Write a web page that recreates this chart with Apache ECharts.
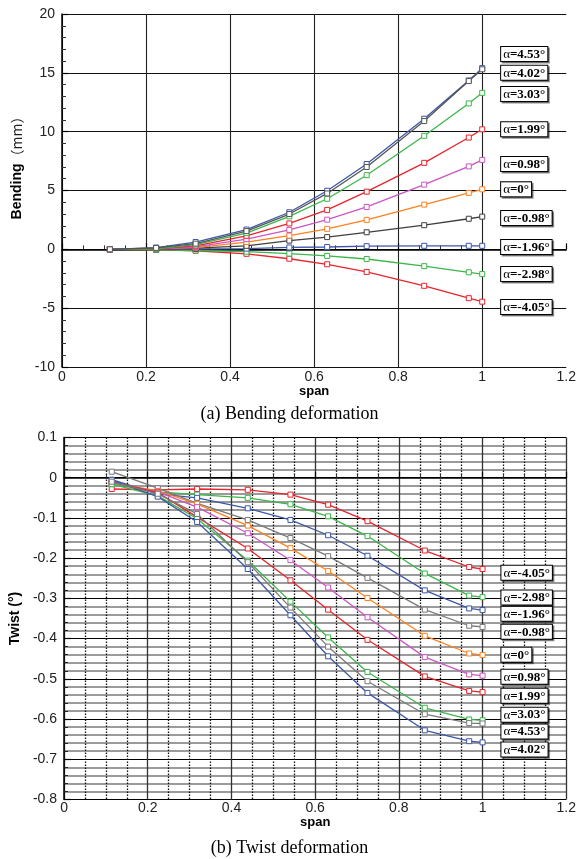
<!DOCTYPE html>
<html><head><meta charset="utf-8">
<script src="https://cdn.jsdelivr.net/npm/echarts@6/dist/echarts.min.js"></script>
<style>html,body{margin:0;padding:0;background:#fff}#c{width:579px;height:859px}</style>
</head><body><div id="c"></div>
<script>
// span positions (shared by both panels)
const spanX = [0.114, 0.224, 0.318, 0.439, 0.541, 0.631, 0.725, 0.862, 0.968, 1.0];

// (a) Bending deformation, mm
const bend_453  = [0, 0.12, 0.48, 1.55, 3.0, 4.75, 7.0, 10.9, 14.3, 15.3];
const bend_402  = [0, 0.15, 0.62, 1.68, 3.15, 4.98, 7.25, 11.1, 14.35, 15.4];
const bend_303  = [0, 0.05, 0.4, 1.38, 2.8, 4.3, 6.3, 9.65, 12.4, 13.3];
const bend_199  = [0, 0.05, 0.3, 1.15, 2.2, 3.35, 4.9, 7.35, 9.5, 10.2];
const bend_098  = [0, 0.05, 0.2, 0.87, 1.65, 2.52, 3.6, 5.5, 7.05, 7.6];
const bend_0    = [0, 0.04, 0.15, 0.62, 1.16, 1.74, 2.5, 3.8, 4.8, 5.1];
const bend_m098 = [0, 0.03, 0.1, 0.3, 0.74, 1.04, 1.45, 2.05, 2.6, 2.78];
const bend_m196 = [0, 0.0, 0.03, 0.06, 0.16, 0.2, 0.27, 0.3, 0.3, 0.3];
const bend_m298 = [0, -0.05, -0.1, -0.2, -0.36, -0.56, -0.82, -1.43, -1.95, -2.1];
const bend_m405 = [0, -0.05, -0.12, -0.38, -0.8, -1.27, -1.92, -3.1, -4.15, -4.45];

// (b) Twist deformation, degrees
const twist_m405 = [-0.028, -0.030, -0.028, -0.030, -0.042, -0.067, -0.108, -0.181, -0.222, -0.227];
const twist_m298 = [-0.016, -0.035, -0.042, -0.050, -0.066, -0.096, -0.145, -0.238, -0.293, -0.297];
const twist_m196 = [-0.005, -0.040, -0.050, -0.076, -0.105, -0.143, -0.194, -0.280, -0.325, -0.329];
const twist_m098 = [0.015, -0.026, -0.064, -0.105, -0.150, -0.195, -0.249, -0.328, -0.368, -0.371];
const twist_0    = [-0.012, -0.033, -0.065, -0.119, -0.175, -0.232, -0.299, -0.393, -0.437, -0.441];
const twist_098  = [-0.012, -0.035, -0.073, -0.138, -0.205, -0.273, -0.347, -0.446, -0.489, -0.492];
const twist_199  = [-0.010, -0.037, -0.098, -0.176, -0.255, -0.328, -0.403, -0.494, -0.530, -0.533];
const twist_303  = [-0.016, -0.045, -0.102, -0.206, -0.308, -0.397, -0.483, -0.572, -0.601, -0.603];
const twist_453  = [-0.010, -0.040, -0.090, -0.210, -0.323, -0.420, -0.506, -0.588, -0.610, -0.611];
const twist_402  = [-0.006, -0.047, -0.110, -0.227, -0.342, -0.444, -0.535, -0.628, -0.655, -0.658];

// series names (angle of attack)
const alphaNames = ['4.53', '4.02', '3.03', '1.99', '0.98', '0', '-0.98', '-1.96', '-2.98', '-4.05'];
// vertical positions of the boxed labels (data units)
const bendLabelY  = [16.6, 15.0, 13.2, 10.2, 7.25, 5.1, 2.66, 0.2, -2.1, -4.9];
const twistLabelY = [-0.631, -0.676, -0.589, -0.542, -0.495, -0.44, -0.383, -0.338, -0.298, -0.236];
const labelX = 1.045;

const bendData  = [bend_453, bend_402, bend_303, bend_199, bend_098, bend_0, bend_m098, bend_m196, bend_m298, bend_m405];
const twistData = [twist_453, twist_402, twist_303, twist_199, twist_098, twist_0, twist_m098, twist_m196, twist_m298, twist_m405];

const bendColors  = ['#555555', '#3d57a7', '#3cb54a', '#e8232b', '#cc55c4', '#ff8020', '#3f3f3f', '#3d57a7', '#3cb54a', '#e8232b'];
const twistColors = ['#7a7a7a', '#3d57a7', '#3cb54a', '#e8232b', '#cc55c4', '#ff8020', '#7a7a7a', '#3d57a7', '#3cb54a', '#e8232b'];

const chart = echarts.init(document.getElementById('c'), null, {renderer: 'canvas'});

function labelCfg() {
  return {
    show: true, position: 'right', distance: 0,
    formatter: p => '{a|α}{b|=' + p.name + '°}',
    backgroundColor: '#fff', borderColor: '#000', borderWidth: 1,
    padding: [1, 2, 0, 2],
    shadowColor: 'rgba(0,0,0,0.45)', shadowOffsetX: 1.5, shadowOffsetY: 1.5, shadowBlur: 0,
    rich: {
      a: {fontFamily: 'Liberation Serif', fontSize: 13, color: '#000', lineHeight: 13},
      b: {fontFamily: 'Liberation Serif', fontSize: 13, fontWeight: 'bold', color: '#000', lineHeight: 13}
    }
  };
}

function makeSeries(dataArr, colors, labelYs, gi) {
  return dataArr.map((vals, i) => ({
    type: 'line',
    name: 'g' + gi + '_' + alphaNames[i],
    xAxisIndex: gi, yAxisIndex: gi,
    data: spanX.map((x, k) => [x, vals[k]]),
    symbol: 'rect', symbolSize: 5,
    lineStyle: {color: colors[i], width: 1.3},
    itemStyle: {color: '#fff', borderColor: colors[i], borderWidth: 1},
    emphasis: {disabled: true},
    animation: false,
    clip: false,
    z: 3 + (dataArr.length - i) * 0.01,
    markPoint: {
      symbol: 'rect', symbolSize: 0, animation: false,
      data: [{name: alphaNames[i], coord: [labelX, labelYs[i]]}],
      label: labelCfg()
    }
  }));
}

const axisLabelStyle = {color: '#222', fontFamily: 'Liberation Sans', fontSize: 14};

const option = {
  backgroundColor: '#fff',
  animation: false,
  title: [
    {text: '(a) Bending deformation', left: 'center', top: 400,
     textStyle: {fontFamily: 'Liberation Serif', fontSize: 18, fontWeight: 'normal', color: '#000'}},
    {text: '(b) Twist deformation', left: 'center', top: 834,
     textStyle: {fontFamily: 'Liberation Serif', fontSize: 18, fontWeight: 'normal', color: '#000'}}
  ],
  grid: [
    {left: 62, top: 14, width: 505, height: 353},
    {left: 59, top: 437.5, width: 508, height: 362}
  ],
  xAxis: [
    {type: 'value', gridIndex: 0, min: 0, max: 1.2, interval: 0.2,
     name: 'span', nameLocation: 'middle', nameGap: 14,
     nameTextStyle: {fontFamily: 'Liberation Sans', fontWeight: 'bold', fontSize: 13, color: '#000'},
     axisLine: {lineStyle: {color: '#000', width: 1.5}},
     axisTick: {inside: true, length: 6, lineStyle: {color: '#000', width: 1.2}},
     minorTick: {show: true, splitNumber: 4, length: 4, lineStyle: {color: '#333'}},
     axisLabel: Object.assign({margin: 3, formatter: v => +v.toFixed(1) + ''}, axisLabelStyle),
     splitLine: {show: true, showMaxLine: false, lineStyle: {color: '#222', width: 1.1}}},
    {type: 'value', gridIndex: 1, min: 0, max: 1.2, interval: 0.2,
     name: 'span', nameLocation: 'middle', nameGap: 14,
     nameTextStyle: {fontFamily: 'Liberation Sans', fontWeight: 'bold', fontSize: 13, color: '#000'},
     axisLine: {lineStyle: {color: '#000', width: 1.5}},
     axisTick: {inside: true, length: 6, lineStyle: {color: '#000', width: 1.2}},
     minorTick: {show: true, splitNumber: 4, length: 4, lineStyle: {color: '#333'}},
     axisLabel: Object.assign({margin: 2, formatter: v => +v.toFixed(1) + ''}, axisLabelStyle),
     splitLine: {show: true, lineStyle: {color: '#333', width: 1.3}},
     minorSplitLine: {show: true, lineStyle: {color: '#111', width: 1.3, type: [1.5, 1.5]}}}
  ],
  yAxis: [
    {type: 'value', gridIndex: 0, min: -10, max: 20, interval: 5,
     name: '{b|Bending}{m|（mm）}', nameLocation: 'middle', nameGap: 30, nameRotate: 90,
     nameTextStyle: {padding: [0, 0, 0, 52],
       rich: {b: {fontFamily: 'Liberation Sans', fontWeight: 'bold', fontSize: 14, color: '#000'},
              m: {fontFamily: 'Noto Sans CJK SC', fontSize: 14, color: '#222'}}},
     axisLine: {lineStyle: {color: '#000', width: 1.5}},
     axisTick: {inside: true, length: 6, lineStyle: {color: '#000', width: 1.2}},
     minorTick: {show: true, splitNumber: 5, length: 4, lineStyle: {color: '#333'}},
     axisLabel: Object.assign({margin: 7}, axisLabelStyle),
     splitLine: {show: true, lineStyle: {color: '#111', width: 1.1}}},
    {type: 'value', gridIndex: 1, min: -0.8, max: 0.1, interval: 0.1,
     name: 'Twist (°)', nameLocation: 'middle', nameGap: 30, nameRotate: 90,
     nameTextStyle: {fontFamily: 'Liberation Sans', fontWeight: 'bold', fontSize: 14, color: '#000'},
     axisLine: {lineStyle: {color: '#000', width: 1.5}},
     axisTick: {inside: true, length: 7, lineStyle: {color: '#000', width: 1.2}},
     minorTick: {show: true, splitNumber: 5, length: 4, lineStyle: {color: '#222'}},
     axisLabel: Object.assign({margin: 7, formatter: v => +v.toFixed(1) + ''}, axisLabelStyle),
     splitLine: {show: true, lineStyle: {color: '#000', width: 1.2}},
     minorSplitLine: {show: true, lineStyle: {color: '#7a7a7a', width: 1.7}}}
  ],
  series: [].concat(
    makeSeries(bendData, bendColors, bendLabelY, 0),
    makeSeries(twistData, twistColors, twistLabelY, 1)
  )
};
chart.setOption(option);
</script>
</body></html>
